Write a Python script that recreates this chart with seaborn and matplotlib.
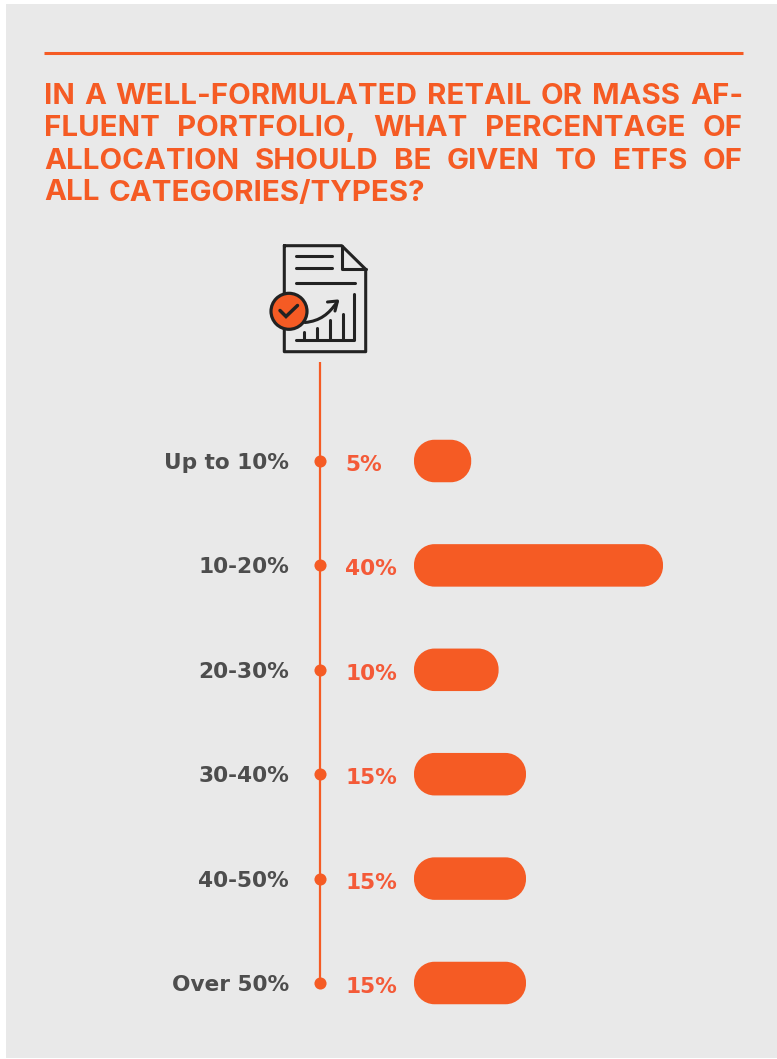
import matplotlib
matplotlib.use("Agg")
import matplotlib.pyplot as plt
from matplotlib.patches import Rectangle, Circle, PathPatch
from matplotlib.path import Path
import pandas as pd
import seaborn as sns

W, H = 777, 1059

categories = ["Up to 10%", "10-20%", "20-30%", "30-40%", "40-50%", "Over 50%"]
shares = [5, 40, 10, 15, 15, 15]
title_lines = [
    "IN A WELL-FORMULATED RETAIL OR MASS AF-",
    "FLUENT PORTFOLIO, WHAT PERCENTAGE OF",
    "ALLOCATION SHOULD BE GIVEN TO ETFS OF",
    "ALL CATEGORIES/TYPES?",
]
justified = [True, True, True, False]

ORANGE = "#F55B24"
VALUE_ORANGE = "#F45A38"
GREY = "#4D4D4D"
PANEL = "#E9E9E9"
INK = "#222222"
TITLE_FONT = "Inter"
LABEL_FONT = "DejaVu Sans"
TITLE_SIZE = 21.2
LABEL_SIZE = 15.6

sns.set_theme(style="white")
plt.rcParams["font.family"] = [LABEL_FONT]

fig = plt.figure(figsize=(W / 100, H / 100), dpi=100, facecolor="white")

# Background layer measured in pixels, origin at the top left
bg = fig.add_axes([0, 0, 1, 1], zorder=0)
bg.set_xlim(0, W)
bg.set_ylim(H, 0)
bg.axis("off")
bg.add_patch(Rectangle((6, 4), W - 6, H - 5, fc=PANEL, ec="none"))
bg.plot([44, 743], [53, 53], color=ORANGE, lw=2.2, solid_capstyle="butt")

# Justified heading: words are spread across the column width
renderer = fig.canvas.get_renderer()
LEFT, RIGHT = 44, 743
for line, base, just in zip(title_lines, [104.5, 136.5, 169, 200.5], justified):
    words = line.split(" ")
    probes = [bg.text(0, 0, w, fontsize=TITLE_SIZE, fontweight="bold", family=TITLE_FONT) for w in words]
    widths = [p.get_window_extent(renderer).width for p in probes]
    for p in probes:
        p.remove()
    space = (RIGHT - LEFT - sum(widths)) / (len(words) - 1) if just else 9.0
    x = LEFT
    for word, width in zip(words, widths):
        bg.text(x, base, word, fontsize=TITLE_SIZE, fontweight="bold", family=TITLE_FONT,
                color=ORANGE, ha="left", va="baseline")
        x += width + space

# Document icon with rising chart and check badge
def stroke(xs, ys, **kw):
    bg.plot(xs, ys, color=INK, lw=2.2, solid_capstyle="round", solid_joinstyle="round", **kw)

stroke([284.3, 341.7, 365.7, 365.7, 284.3, 284.3], [245.7, 245.7, 269.3, 351.7, 351.7, 245.7])
stroke([341.7, 341.7, 365.7], [245.7, 269.3, 269.3])
stroke([296, 331.7], [255.7, 255.7])
stroke([296, 331.7], [268.3, 268.3])
stroke([296, 355], [283, 283])
stroke([296, 354, 354], [340, 340, 293.5])
for bx, by in [(304.3, 332), (317.3, 327.5), (330, 320), (342.7, 313.5)]:
    stroke([bx, bx], [340, by])
bg.add_patch(PathPatch(Path([(305, 322.5), (320, 321), (329, 314), (337, 302)],
                            [Path.MOVETO, Path.CURVE4, Path.CURVE4, Path.CURVE4]),
                       fc="none", ec=INK, lw=2.2, capstyle="round"))
stroke([327.5, 337.5, 335], [302, 301, 311])
bg.add_patch(Circle((289, 311.3), 18, fc=ORANGE, ec=INK, lw=2.3, zorder=3))
bg.plot([280, 286, 297.5], [310.5, 316.5, 305.5], color=INK, lw=2.5, zorder=4,
        solid_capstyle="round", solid_joinstyle="miter")

# Bar layer: the value axis runs from 0 to 40, each category one row
PX_ZERO, PX_MAX = 443.8, 663.0
ROW_TOP, ROW_STEP = 461.0, 104.4
px_per_unit = (PX_MAX - PX_ZERO) / 40
n = len(categories)
top_edge = ROW_TOP - ROW_STEP / 2
ax = fig.add_axes([PX_ZERO / W, 1 - (top_edge + n * ROW_STEP) / H,
                   (PX_MAX - PX_ZERO) / W, n * ROW_STEP / H], zorder=1)
ax.patch.set_alpha(0)

frame = pd.DataFrame({"category": categories, "share": shares})
sns.barplot(data=frame, x="share", y="category", orient="h", color=ORANGE,
            width=42.5 / ROW_STEP, saturation=1, ax=ax)
ax.set_xlim(0, 40)
ax.set_ylim(n - 0.5, -0.5)
ax.set_xlabel("")
ax.set_ylabel("")
ax.set_xticks([])
sns.despine(ax=ax, left=True, bottom=True)
ax.tick_params(axis="y", length=0, pad=(PX_ZERO - 289) * 0.72)
for tick in ax.get_yticklabels():
    tick.set_fontsize(LABEL_SIZE)
    tick.set_fontweight("bold")
    tick.set_color(GREY)


def rounded_bar_path(x0, y0, w, h, rx, ry, k=0.45):
    """Rectangle with elliptical corners made of cubic curves; k sets the handle inset."""
    x1, y1 = x0 + w, y0 + h
    verts = [
        (x0 + rx, y0), (x1 - rx, y0),
        (x1 - rx * k, y0), (x1, y0 + ry * k), (x1, y0 + ry),
        (x1, y1 - ry),
        (x1, y1 - ry * k), (x1 - rx * k, y1), (x1 - rx, y1),
        (x0 + rx, y1),
        (x0 + rx * k, y1), (x0, y1 - ry * k), (x0, y1 - ry),
        (x0, y0 + ry),
        (x0, y0 + ry * k), (x0 + rx * k, y0), (x0 + rx, y0),
    ]
    c4 = Path.CURVE4
    codes = [Path.MOVETO, Path.LINETO, c4, c4, c4, Path.LINETO, c4, c4, c4,
             Path.LINETO, c4, c4, c4, Path.LINETO, c4, c4, c4]
    return Path(verts, codes)


# Swap the square bars for rounded ones, with a stub left of the zero line
STUB_PX, RADIUS_PX = PX_ZERO - 414, 20.5
for bar in list(ax.patches):
    x0, y0, w, h = bar.get_x(), bar.get_y(), bar.get_width(), bar.get_height()
    bar.remove()
    stub = STUB_PX / px_per_unit
    ax.add_patch(PathPatch(
        rounded_bar_path(x0 - stub, y0, w + stub, h,
                         RADIUS_PX / px_per_unit, RADIUS_PX / ROW_STEP),
        fc=ORANGE, ec="none", clip_on=False))

# Timeline spine, row markers and value labels
rows = [ROW_TOP + i * ROW_STEP for i in range(n)]
bg.plot([320, 320], [362, rows[-1]], color=ORANGE, lw=1.6, solid_capstyle="butt")
sns.scatterplot(x=[320] * n, y=rows, color=ORANGE, s=76, linewidth=0, ax=bg, legend=False, zorder=3)
for y, v in zip(rows, shares):
    bg.text(345, y + 10, f"{v}%", fontsize=LABEL_SIZE, fontweight="bold", family=LABEL_FONT,
            color=VALUE_ORANGE, ha="left", va="baseline")

bg.set_xlim(0, W)
bg.set_ylim(H, 0)
fig.savefig("out.png", dpi=100)
